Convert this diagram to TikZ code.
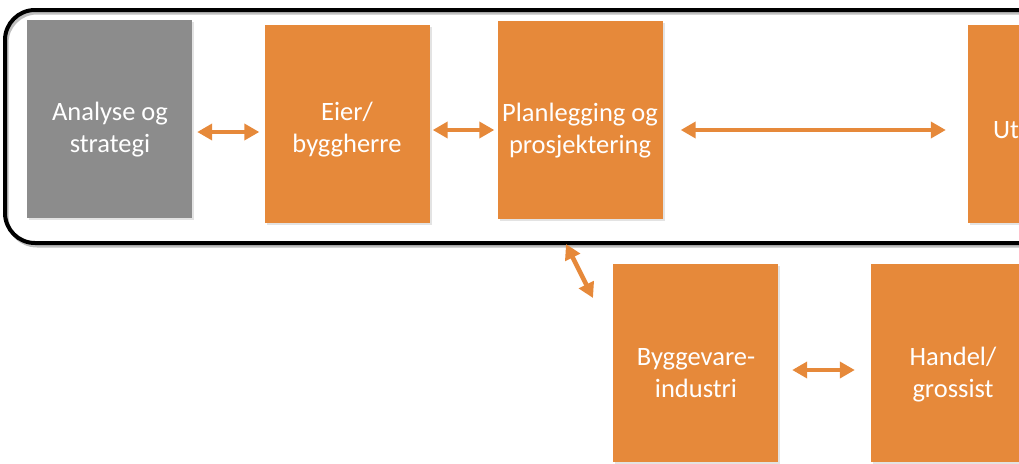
\documentclass[tikz,border=0pt]{standalone}
\usepackage{fontspec}
\setmainfont{Carlito}
\usetikzlibrary{arrows.meta,shadows}
\definecolor{boxorange}{HTML}{E6893A}
\definecolor{boxgray}{HTML}{8C8C8C}
\tikzset{
  block/.style={draw=none, minimum width=165pt, minimum height=198pt, inner sep=0pt,
    drop shadow={opacity=0.22, shadow xshift=2pt, shadow yshift=-2pt}},
  orangeblock/.style={block, fill=boxorange},
  grayblock/.style={block, fill=boxgray},
  label/.style={text=white, align=center, inner sep=0pt,
    font=\fontsize{26.5pt}{32pt}\selectfont},
  link/.style={draw=boxorange, line width=4.5pt,
    {Triangle[length=15pt,width=16pt]}-{Triangle[length=15pt,width=16pt]}},
  frame/.style={draw=black, line width=4pt, rounded corners=30pt}
}
\begin{document}
\begin{tikzpicture}[x=1pt,y=-1pt]
\useasboundingbox (0,0) rectangle (1019,463);
\clip (0,0) rectangle (1019,463);
% enclosing frame of the upper row
\draw[frame, draw=black!25, line width=3pt] (7,13) rectangle (1100,246);
\draw[frame] (5,10) rectangle (1100,243);
% blocks
\node[grayblock]   (ana)  at (109.5,119)  {};
\node[orangeblock] (eier) at (347,123.5)  {};
\node[orangeblock] (plan) at (580,119.5)  {};
\node[orangeblock] (utf)  at (1050.5,123.5) {};
\node[orangeblock] (bygg) at (695.5,363)  {};
\node[orangeblock] (hand) at (953.5,363)  {};
% block texts
\node[label] (tana)  at (110,130) {Analyse og\\strategi};
\node[label] (teier) at (347,130) {Eier/\\byggherre};
\node[label] (tplan) at (580,131) {Planlegging og\\prosjektering};
\node[label, anchor=west] (tutf) at (993,130) {Ut};
\node[label] (tbygg) at (696,373) {Byggevare-\\industri};
\node[label] (thand) at (953,375) {Handel/\\grossist};
% connectors
\coordinate (fb) at (566,244);
\coordinate (fbend) at (593,298);
\begin{scope}[drop shadow/.style={}]
\draw[link, shorten <=5pt, shorten >=5pt] (ana.east |- 0,132) -- (eier.west |- 0,132);
\draw[link, shorten <=3pt, shorten >=3pt] (eier.east |- 0,130) -- (plan.west |- 0,130);
\draw[link, shorten <=18pt, shorten >=22pt] (plan.east |- 0,130) -- (utf.west |- 0,130);
\draw[link] (fb) -- (fbend);
\draw[link, shorten <=14pt, shorten >=16pt] (bygg.east |- 0,370) -- (hand.west |- 0,370);
\end{scope}
\end{tikzpicture}
\end{document}
